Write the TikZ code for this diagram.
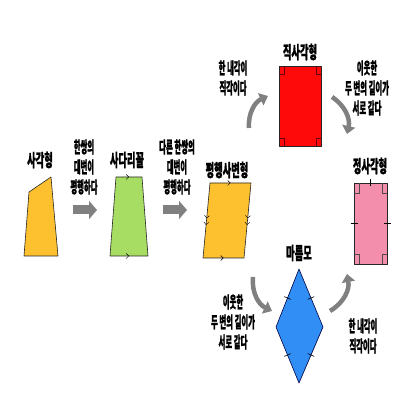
\documentclass[tikz,border=0pt]{standalone}
\usepackage{fontspec}
\usepackage{tikz}
\usetikzlibrary{arrows.meta,decorations.markings}
\newfontfamily\titlefont[FakeStretch=0.53, FakeBold=0.8]{Noto Sans CJK KR}
\newfontfamily\notefont[FakeStretch=0.46, FakeBold=0.8]{Noto Sans CJK KR}
\definecolor{QuadYellow}{RGB}{253, 192, 47}
\definecolor{TrapGreen}{RGB}{166, 221, 98}
\definecolor{RectRed}{RGB}{255, 10, 10}
\definecolor{SquarePink}{RGB}{243, 142, 172}
\definecolor{RhombBlue}{RGB}{48, 142, 245}
\definecolor{ArrowGray}{RGB}{128, 128, 128}

\begin{document}
\begin{tikzpicture}[
    x=1pt, y=1pt,
    outline/.style={draw=black!85, line width=0.6pt, line join=round},
    title/.style={font=\titlefont\bfseries\fontsize{17.5}{19}\selectfont, inner sep=0pt},
    note/.style={font=\notefont\bfseries\fontsize{16}{20}\selectfont, align=center, inner sep=0pt},
    flow/.style={draw=ArrowGray, line width=9pt, -{Triangle[length=8pt,width=18pt]}},
    turn/.style={draw=ArrowGray, line width=4.5pt, -{Triangle[length=8pt,width=13pt]}},
    parone/.style={postaction={decorate}, decoration={markings,
        mark=at position 0.5 with {\arrow{Straight Barb[length=2.5pt,width=5pt]}}}},
    partwo/.style={postaction={decorate}, decoration={markings,
        mark=at position 0.47 with {\arrow{Straight Barb[length=2.5pt,width=5pt]}},
        mark=at position 0.56 with {\arrow{Straight Barb[length=2.5pt,width=5pt]}}}},
    tick/.style={postaction={decorate}, decoration={markings,
        mark=at position 0.5 with {\draw[line width=0.6pt] (0,-3.5) -- (0,3.5);}}},
    corner/.style={draw=black!70, line width=0.6pt}
]
\useasboundingbox (0,0) rectangle (416,416);

% Quadrilateral
\coordinate (q1) at (29,224);
\coordinate (q2) at (51,239);
\coordinate (q3) at (58,160);
\coordinate (q4) at (24,160);
\draw[outline, fill=QuadYellow] (q1) -- (q2) -- (q3) -- (q4) -- cycle;
\node[title] (quad) at (40,256) {사각형};

% Step 1
\coordinate (a1) at (73,206);
\coordinate (a2) at (97,206);
\draw[flow] (a1) -- (a2);
\node[note] (n1) at (84,249) {한쌍의\\대변이\\평행하다};

% Trapezoid
\coordinate (t1) at (116,239);
\coordinate (t2) at (142,239);
\coordinate (t3) at (148,160);
\coordinate (t4) at (110,160);
\draw[outline, fill=TrapGreen] (t1) -- (t2) -- (t3) -- (t4) -- cycle;
\path[parone] (t1) -- (t2);
\path[parone] (t4) -- (t3);
\node[title] (trap) at (127,256) {사다리꼴};

% Step 2
\coordinate (b1) at (163,206);
\coordinate (b2) at (187,206);
\draw[flow] (b1) -- (b2);
\node[note] (n2) at (177,249) {다른 한쌍의\\대변이\\평행하다};

% Parallelogram
\coordinate (p1) at (210,233);
\coordinate (p2) at (251,233);
\coordinate (p3) at (244,158);
\coordinate (p4) at (203,158);
\draw[outline, fill=QuadYellow] (p1) -- (p2) -- (p3) -- (p4) -- cycle;
\path[parone] (p1) -- (p2);
\path[parone] (p4) -- (p3);
\path[partwo] (p1) -- (p4);
\path[partwo] (p2) -- (p3);
\node[title] (para) at (227,246) {평행사변형};

% Rectangle
\coordinate (r1) at (279,350);
\coordinate (r2) at (321,350);
\coordinate (r3) at (321,270);
\coordinate (r4) at (279,270);
\draw[outline, fill=RectRed] (r1) -- (r2) -- (r3) -- (r4) -- cycle;
\draw[corner, draw=red!45!black] (279,342) -| (284,350);
\draw[corner, draw=red!45!black] (321,342) -| (316,350);
\draw[corner, draw=red!45!black] (279,278) -| (284,270);
\draw[corner, draw=red!45!black] (321,278) -| (316,270);
\node[title] (rect) at (300,364) {직사각형};

% Parallelogram to rectangle
\coordinate (c1) at (249,288);
\coordinate (c2) at (268,320);
\draw[turn] (c1) to[bend left=35] (c2);
\node[note] (n3) at (233,338) {한 내각이\\직각이다};

% Rectangle to square
\coordinate (d1) at (332,319);
\coordinate (d2) at (347,282);
\draw[turn] (d1) to[bend left=35] (d2);
\node[note] (n4) at (367,328) {이웃한\\두 변의 길이가\\서로 같다};

% Square
\coordinate (s1) at (354,233);
\coordinate (s2) at (387,233);
\coordinate (s3) at (387,152);
\coordinate (s4) at (354,152);
\draw[outline, fill=SquarePink] (s1) -- (s2) -- (s3) -- (s4) -- cycle;
\path[tick] (s1) -- (s2);
\path[tick] (s1) -- (s4);
\path[tick] (s2) -- (s3);
\draw[corner] (354,223) -| (359,233);
\draw[corner] (387,223) -| (382,233);
\draw[corner] (354,162) -| (359,152);
\draw[corner] (387,162) -| (382,152);
\node[title] (square) at (370,250) {정사각형};

% Parallelogram to rhombus
\coordinate (e1) at (253,139);
\coordinate (e2) at (272,105);
\draw[turn] (e1) to[bend right=35] (e2);
\node[note] (n5) at (233,94) {이웃한\\두 변의 길이가\\서로 같다};

% Rhombus
\coordinate (m1) at (299,147);
\coordinate (m2) at (323,89);
\coordinate (m3) at (299,33);
\coordinate (m4) at (276,89);
\draw[outline, fill=RhombBlue, draw=blue!25!black] (m1) -- (m2) -- (m3) -- (m4) -- cycle;
\path[tick] (m1) -- (m2);
\path[tick] (m2) -- (m3);
\path[tick] (m3) -- (m4);
\path[tick] (m4) -- (m1);
\node[title] (rhomb) at (299,163) {마름모};

% Rhombus to square
\coordinate (f1) at (330,105);
\coordinate (f2) at (347,142);
\draw[turn] (f1) to[bend right=35] (f2);
\node[note] (n6) at (363,80) {한 내각이\\직각이다};

\end{tikzpicture}
\end{document}
